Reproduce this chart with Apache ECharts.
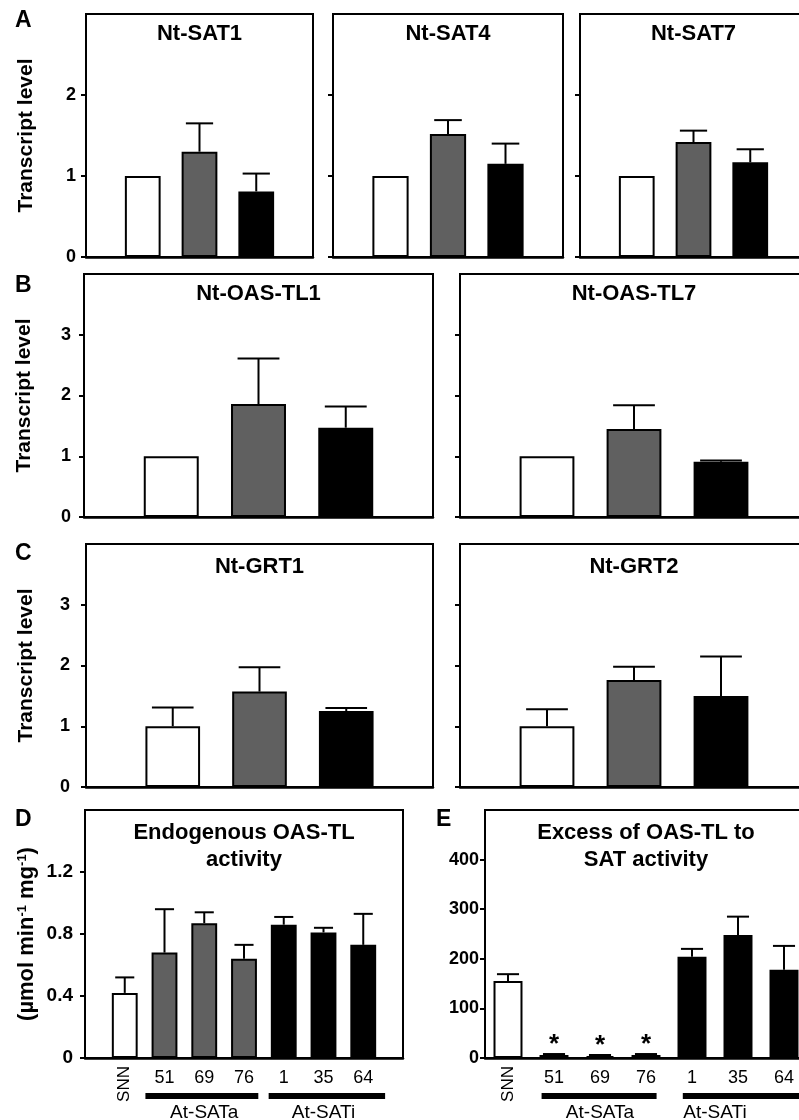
<!DOCTYPE html>
<html>
<head>
<meta charset="utf-8">
<script src="https://cdn.jsdelivr.net/npm/echarts@6/dist/echarts.min.js"></script>
<style>
  html, body { margin: 0; padding: 0; background: #fff; }
  #chart { width: 799px; height: 1120px; }
</style>
</head>
<body>
<div id="chart"></div>
<script>
// transcript panels: white = SNN, gray = At-SATa, black = At-SATi (empty slots pad both ends)
const transcriptCats = ['', 'SNN', 'At-SATa', 'At-SATi', ''];

const sat1Mean = [1.0, 1.30, 0.81];
const sat1Err = [0, 0.35, 0.22];
const sat4Mean = [1.0, 1.52, 1.15];
const sat4Err = [0, 0.17, 0.25];
const sat7Mean = [1.0, 1.42, 1.17];
const sat7Err = [0, 0.14, 0.16];
const oasTl1Mean = [1.0, 1.86, 1.47];
const oasTl1Err = [0, 0.75, 0.35];
const oasTl7Mean = [1.0, 1.45, 0.91];
const oasTl7Err = [0, 0.39, 0.02];
const grt1Mean = [1.0, 1.57, 1.25];
const grt1Err = [0.31, 0.40, 0.05];
const grt2Mean = [1.0, 1.76, 1.50];
const grt2Err = [0.28, 0.22, 0.65];

// activity panels
const lineCats = ['SNN', '51', '69', '76', '1', '35', '64'];
const lineGroup = [0, 1, 1, 1, 2, 2, 2];
const endoMean = [0.42, 0.68, 0.87, 0.64, 0.86, 0.81, 0.73];
const endoErr = [0.10, 0.28, 0.07, 0.09, 0.05, 0.03, 0.20];
const excessMean = [155, 6, 4, 6, 204, 248, 178];
const excessErr = [14, 2, 2, 2, 16, 37, 48];
const excessStar = [false, true, true, true, false, false, false];

const transcriptTicks = [0, 1, 2];
const endoTicks = [0, 0.4, 0.8, 1.2];
const excessTicks = [0, 100, 200, 300, 400];

const fillColors = ['#ffffff', '#606060', '#000000'];
const FONT = 'Liberation Sans, Arial, sans-serif';

const chart = echarts.init(document.getElementById('chart'));

// panel boxes [left, top, width, height]
const boxes = [
  [86, 14, 227, 243], [333, 14, 230, 243], [580, 14, 227, 243],
  [84, 274, 349, 243], [460, 274, 348, 243],
  [86, 544, 347, 243], [460, 544, 348, 243],
  [85, 810, 318, 248], [485, 810, 322, 248]
];

const panels = [
  { title: 'Nt-SAT1', mean: sat1Mean, err: sat1Err, max: 3, labels: true, margin: 10, ty: 33.5 },
  { title: 'Nt-SAT4', mean: sat4Mean, err: sat4Err, max: 3, labels: false, ty: 33.5 },
  { title: 'Nt-SAT7', mean: sat7Mean, err: sat7Err, max: 3, labels: false, ty: 33.5 },
  { title: 'Nt-OAS-TL1', mean: oasTl1Mean, err: oasTl1Err, max: 4, labels: true, margin: 13, ty: 293.5 },
  { title: 'Nt-OAS-TL7', mean: oasTl7Mean, err: oasTl7Err, max: 4, labels: false, ty: 293.5 },
  { title: 'Nt-GRT1', mean: grt1Mean, err: grt1Err, max: 4, labels: true, margin: 16, ty: 567 },
  { title: 'Nt-GRT2', mean: grt2Mean, err: grt2Err, max: 4, labels: false, ty: 567 }
];

const grids = boxes.map(b => ({
  left: b[0], top: b[1], width: b[2], height: b[3],
  outerBoundsMode: 'none', containLabel: false,
  show: true, borderColor: '#000', borderWidth: 2, backgroundColor: 'transparent'
}));

const xAxes = [];
const yAxes = [];
const series = [];

function errorSeries(axisIdx, means, errs, offset) {
  return {
    type: 'custom',
    xAxisIndex: axisIdx,
    yAxisIndex: axisIdx,
    z: 3,
    silent: true,
    data: means.map((m, i) => [i + offset, m, errs[i]]),
    renderItem: (params, api) => {
      const e = api.value(2);
      if (!e) return null;
      const x = api.value(0);
      const m = api.value(1);
      const p0 = api.coord([x, m]);
      const p1 = api.coord([x, m + e]);
      const hw = api.size([1, 0])[0] * 0.24;
      const st = { stroke: '#000', lineWidth: 2 };
      return {
        type: 'group',
        children: [
          { type: 'line', shape: { x1: p0[0], y1: p0[1], x2: p1[0], y2: p1[1] }, style: st },
          { type: 'line', shape: { x1: p1[0] - hw, y1: p1[1], x2: p1[0] + hw, y2: p1[1] }, style: st }
        ]
      };
    }
  };
}

function yAxisBase(gridIdx, max, interval, ticks, showLabels, margin, fontSize) {
  return {
    type: 'value', gridIndex: gridIdx, min: 0, max: max, interval: interval,
    axisLine: { show: true, lineStyle: { color: '#000', width: 2 } },
    axisTick: { show: true, length: 5, customValues: ticks, lineStyle: { color: '#000', width: 2 } },
    axisLabel: {
      show: showLabels, customValues: ticks, margin: margin || 10,
      color: '#000', fontSize: fontSize || 18, fontWeight: 'bold', fontFamily: FONT
    },
    splitLine: { show: false }
  };
}

const xLineStyle = { show: true, lineStyle: { color: '#000', width: 2.5 } };

panels.forEach((p, i) => {
  xAxes.push({
    type: 'category', gridIndex: i, data: transcriptCats, boundaryGap: false,
    axisLine: xLineStyle, axisTick: { show: false }, axisLabel: { show: false }
  });
  const ticks = p.max === 3 ? transcriptTicks : transcriptTicks.concat([3]);
  const y = yAxisBase(i, p.max, 1, ticks, p.labels, p.margin);
  if (p.labels) {
    y.name = 'Transcript level';
    y.nameLocation = 'middle';
    y.nameGap = 49;
    y.nameTextStyle = { color: '#000', fontSize: 21, fontWeight: 'bold', fontFamily: FONT };
  }
  yAxes.push(y);
  series.push({
    type: 'bar', xAxisIndex: i, yAxisIndex: i, barWidth: '63%',
    data: ['-'].concat(p.mean.map((v, k) => ({
      value: v, itemStyle: { color: fillColors[k], borderColor: '#000', borderWidth: 2 }
    }))).concat(['-'])
  });
  series.push(errorSeries(i, p.mean, p.err, 1));
});

// D: endogenous OAS-TL activity (padded categories)
const dIdx = 7;
const dCats = [''].concat(lineCats).concat(['']);
const numLabel = {
  color: '#000', fontSize: 18, fontFamily: FONT, margin: 11,
  formatter: v => (v === 'SNN' ? '' : v)
};
const snnLabel = {
  color: '#000', fontSize: 17, fontFamily: FONT, margin: 8, rotate: 90,
  formatter: v => (v === 'SNN' ? v : '')
};
xAxes.push({
  type: 'category', gridIndex: dIdx, data: dCats, boundaryGap: false, position: 'bottom',
  axisLine: xLineStyle, axisTick: { show: false }, axisLabel: Object.assign({ interval: 0 }, numLabel)
});
// E: excess of OAS-TL to SAT activity
const eIdx = 8;
xAxes.push({
  type: 'category', gridIndex: eIdx, data: lineCats, boundaryGap: true, position: 'bottom',
  axisLine: xLineStyle, axisTick: { show: false }, axisLabel: Object.assign({ interval: 0 }, numLabel)
});
// extra axes carrying only the rotated SNN label
xAxes.push({
  type: 'category', gridIndex: dIdx, data: dCats, boundaryGap: false, position: 'bottom',
  axisLine: { show: false }, axisTick: { show: false }, axisLabel: Object.assign({ interval: 0 }, snnLabel)
});
xAxes.push({
  type: 'category', gridIndex: eIdx, data: lineCats, boundaryGap: true, position: 'bottom',
  axisLine: { show: false }, axisTick: { show: false }, axisLabel: Object.assign({ interval: 0 }, snnLabel)
});

const yD = yAxisBase(dIdx, 1.6, 0.4, endoTicks, true, 12, 19);
yD.name = '(µmol min{sup|-1} mg{sup|-1})';
yD.nameLocation = 'middle';
yD.nameGap = 47;
yD.nameTextStyle = {
  color: '#000', fontSize: 22, fontWeight: 'bold', fontFamily: FONT,
  rich: { sup: { fontSize: 13, fontWeight: 'bold', fontFamily: FONT, color: '#000', verticalAlign: 'top' } }
};
yAxes.push(yD);
yAxes.push(yAxisBase(eIdx, 500, 100, excessTicks, true, 6));

series.push({
  type: 'bar', xAxisIndex: dIdx, yAxisIndex: dIdx, barWidth: '65%',
  data: ['-'].concat(endoMean.map((v, k) => ({
    value: v, itemStyle: { color: fillColors[lineGroup[k]], borderColor: '#000', borderWidth: 2 }
  }))).concat(['-'])
});
series.push(errorSeries(dIdx, endoMean, endoErr, 1));

series.push({
  type: 'bar', xAxisIndex: eIdx, yAxisIndex: eIdx, barWidth: '63%',
  data: excessMean.map((v, k) => ({
    value: v,
    itemStyle: { color: fillColors[lineGroup[k]], borderColor: '#000', borderWidth: 2 },
    label: {
      show: excessStar[k], position: 'top', distance: -3, formatter: '*',
      color: '#000', fontSize: 26, fontWeight: 'bold', fontFamily: FONT
    }
  }))
});
series.push(errorSeries(eIdx, excessMean, excessErr, 0));

// titles and panel letters
const graphics = [];
panels.forEach((p, i) => {
  const b = boxes[i];
  graphics.push({
    type: 'text', x: b[0] + b[2] / 2, y: p.ty,
    style: { text: p.title, font: 'bold 22px ' + FONT, fill: '#000', textAlign: 'center', textVerticalAlign: 'middle' }
  });
});
[[dIdx, 'Endogenous OAS-TL\nactivity'], [eIdx, 'Excess of OAS-TL to\nSAT activity']].forEach(([i, t]) => {
  const b = boxes[i];
  graphics.push({
    type: 'text', x: b[0] + b[2] / 2, y: 846.5,
    style: { text: t, font: 'bold 22px ' + FONT, fill: '#000', textAlign: 'center', textVerticalAlign: 'middle', lineHeight: 27 }
  });
});
[['A', 15, 21], ['B', 15, 286], ['C', 15, 554], ['D', 15, 820], ['E', 436, 820]].forEach(([t, x, y]) => {
  graphics.push({
    type: 'text', x: x, y: y,
    style: { text: t, font: 'bold 23px ' + FONT, fill: '#000', textAlign: 'left', textVerticalAlign: 'middle' }
  });
});

chart.setOption({
  animation: false,
  backgroundColor: '#fff',
  grid: grids,
  xAxis: xAxes,
  yAxis: yAxes,
  series: series,
  graphic: graphics
});

// group bars under the line categories (At-SATa / At-SATi); edges given as fractions of a band
const lineGroups = [
  { axis: dIdx, name: 'At-SATa', from: 2, to: 4, padL: 0.48, padR: 0.36, labelAt: 3 },
  { axis: dIdx, name: 'At-SATi', from: 5, to: 7, padL: 0.38, padR: 0.55, labelAt: 6 },
  { axis: eIdx, name: 'At-SATa', from: 1, to: 3, padL: 0.27, padR: 0.23, labelAt: 2 },
  { axis: eIdx, name: 'At-SATi', from: 4, to: 6, padL: 0.2, padR: 0.6, labelAt: 4.5 }
];
function catPx(axis, v) {
  const lo = Math.floor(v), hi = Math.ceil(v);
  const a = chart.convertToPixel({ xAxisIndex: axis }, lo);
  const b = chart.convertToPixel({ xAxisIndex: axis }, hi);
  return a + (b - a) * (v - lo);
}
lineGroups.forEach(g => {
  const band = catPx(g.axis, 1) - catPx(g.axis, 0);
  const x1 = catPx(g.axis, g.from) - g.padL * band;
  const x2 = catPx(g.axis, g.to) + g.padR * band;
  graphics.push({
    type: 'rect', shape: { x: x1, y: 1093, width: x2 - x1, height: 6 }, style: { fill: '#000' }
  });
  graphics.push({
    type: 'text', x: catPx(g.axis, g.labelAt), y: 1113,
    style: { text: g.name, font: '19px ' + FONT, fill: '#000', textAlign: 'center', textVerticalAlign: 'middle' }
  });
});
chart.setOption({ graphic: graphics });
</script>
</body>
</html>
